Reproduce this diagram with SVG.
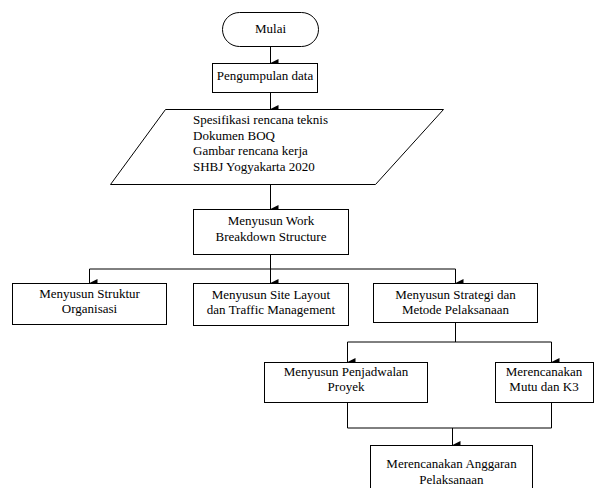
<svg xmlns="http://www.w3.org/2000/svg" width="594" height="488" viewBox="0 0 594 488">
<style>
.s{fill:#fff;stroke:#000;stroke-width:1}
.t{font-family:"Liberation Serif","Times New Roman",serif;font-size:13px;fill:#000}
.c{text-anchor:middle}
.l{fill:none;stroke:#000;stroke-width:1}
</style>
<defs>
<marker id="a" markerUnits="userSpaceOnUse" markerWidth="8" markerHeight="8" refX="3.5" refY="7" orient="auto-start-reverse" viewBox="0 0 7 7">
<path d="M0,0 L7,0 L3.5,7 Z" fill="#000"/>
</marker>
</defs>
<rect width="594" height="488" fill="#fff"/>
<g id="connectors">
<path class="l" d="M270.5,46 V63" marker-end="url(#a)"/>
<path class="l" d="M270.5,92 V109" marker-end="url(#a)"/>
<path class="l" d="M270.5,184 V209" marker-end="url(#a)"/>
<path class="l" d="M270.5,254 V269"/>
<path class="l" d="M89.5,269 H455.5"/>
<path class="l" d="M89.5,269 V283" marker-end="url(#a)"/>
<path class="l" d="M270.5,269 V283" marker-end="url(#a)"/>
<path class="l" d="M455.5,269 V283" marker-end="url(#a)"/>
<path class="l" d="M455.5,322 V342"/>
<path class="l" d="M347.5,342 H551.5"/>
<path class="l" d="M347.5,342 V362" marker-end="url(#a)"/>
<path class="l" d="M551.5,342 V362" marker-end="url(#a)"/>
<path class="l" d="M347.5,402 V428 H551.5 V402"/>
<path class="l" d="M452.5,428 V445" marker-end="url(#a)"/>
</g>
<g id="mulai">
<rect class="s" x="222.5" y="12.5" width="96" height="34" rx="17"/>
<text class="t c" x="270.5" y="33">Mulai</text>
</g>
<g id="pengumpulan">
<rect class="s" x="212.5" y="63.5" width="105" height="29"/>
<text class="t c" x="265" y="80">Pengumpulan data</text>
</g>
<g id="input">
<polygon class="s" points="165.5,109.5 443.5,109.5 375.5,184.5 110.5,184.5"/>
<text class="t" x="193" y="124">Spesifikasi rencana teknis</text>
<text class="t" x="193" y="140">Dokumen BOQ</text>
<text class="t" x="193" y="155">Gambar rencana kerja</text>
<text class="t" x="193" y="171">SHBJ Yogyakarta 2020</text>
</g>
<g id="wbs">
<rect class="s" x="193.5" y="209.5" width="155" height="45"/>
<text class="t c" x="271" y="225">Menyusun Work</text>
<text class="t c" x="271" y="241">Breakdown Structure</text>
</g>
<g id="struktur">
<rect class="s" x="12.5" y="283.5" width="154" height="41"/>
<text class="t c" x="89.5" y="298">Menyusun Struktur</text>
<text class="t c" x="89.5" y="313">Organisasi</text>
</g>
<g id="site">
<rect class="s" x="193.5" y="283.5" width="155" height="42"/>
<text class="t c" x="271" y="299">Menyusun Site Layout</text>
<text class="t c" x="271" y="314">dan Traffic Management</text>
</g>
<g id="strategi">
<rect class="s" x="373.5" y="283.5" width="164" height="39"/>
<text class="t c" x="455.5" y="299">Menyusun Strategi dan</text>
<text class="t c" x="455.5" y="314">Metode Pelaksanaan</text>
</g>
<g id="penjadwalan">
<rect class="s" x="264.5" y="362.5" width="163" height="40"/>
<text class="t c" x="346" y="376">Menyusun Penjadwalan</text>
<text class="t c" x="346" y="391">Proyek</text>
</g>
<g id="mutu">
<rect class="s" x="495.5" y="362.5" width="98" height="40"/>
<text class="t c" x="544" y="376">Merencanakan</text>
<text class="t c" x="544" y="391">Mutu dan K3</text>
</g>
<g id="anggaran">
<rect class="s" x="370.5" y="445.5" width="162" height="50"/>
<text class="t c" x="451.5" y="468">Merencanakan Anggaran</text>
<text class="t c" x="451.5" y="484">Pelaksanaan</text>
</g>
</svg>
